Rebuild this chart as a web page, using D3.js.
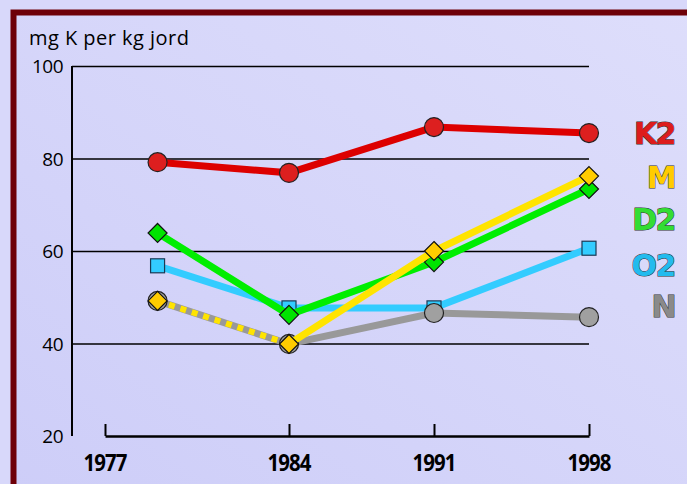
<!DOCTYPE html>
<html>
<head>
<meta charset="utf-8">
<script src="https://cdn.jsdelivr.net/npm/d3@7"></script>
<style>
  body { margin: 0; background: #d8d8fa; }
  svg { display: block; }
</style>
</head>
<body>
<svg id="chart"></svg>
<script>
// data
const years = [1979, 1984, 1991, 1998];
const axisYears = [1977, 1984, 1991, 1998];
const yTicks = [20, 40, 60, 80, 100];
const k2 = [79.2, 76.9, 86.8, 85.5];
const m = [49.2, 39.9, 60.0, 76.2];
const d2 = [63.9, 46.2, 57.6, 73.4];
const o2 = [56.8, 47.7, 47.7, 60.6];
const n = [49.2, 39.9, 46.6, 45.7];

const width = 687;
const height = 484;

const svg = d3.select("#chart").attr("width", width).attr("height", height);

const defs = svg.append("defs");
const grad = defs.append("linearGradient")
  .attr("id", "bg")
  .attr("x1", "0%").attr("y1", "100%")
  .attr("x2", "100%").attr("y2", "0%");
grad.append("stop").attr("offset", "0%").attr("stop-color", "#cdcdf8");
grad.append("stop").attr("offset", "100%").attr("stop-color", "#dedefb");

svg.append("rect").attr("width", width).attr("height", height).attr("fill", "#d8d8fa");
svg.append("rect")
  .attr("x", 13.5).attr("y", 12.5)
  .attr("width", width + 20).attr("height", height + 20)
  .attr("fill", "url(#bg)")
  .attr("stroke", "#6e0008")
  .attr("stroke-width", 6);

// x positions of the printed years are not evenly spaced in the original
const x = d3.scaleLinear().domain(axisYears).range([105, 289, 434, 589]);
const y = d3.scaleLinear().domain([20, 100]).range([436, 66]);

const axisFont = "'Open Sans', sans-serif";

// gridlines
svg.append("g")
  .selectAll("line")
  .data(yTicks.filter((d) => d > 20))
  .join("line")
  .attr("x1", 72)
  .attr("x2", x(1998))
  .attr("y1", (d) => y(d) + 0.5)
  .attr("y2", (d) => y(d) + 0.5)
  .attr("stroke", "#000")
  .attr("stroke-width", 1.3);

// y axis
svg.append("line")
  .attr("x1", 72).attr("x2", 72)
  .attr("y1", y(100)).attr("y2", y(20))
  .attr("stroke", "#000").attr("stroke-width", 2);

svg.append("g")
  .selectAll("text")
  .data(yTicks)
  .join("text")
  .attr("x", 63)
  .attr("y", (d) => y(d) + 7)
  .attr("text-anchor", "end")
  .attr("font-family", axisFont)
  .attr("font-size", 19)
  .attr("letter-spacing", -0.5)
  .attr("fill", "#000")
  .text((d) => d);

svg.append("text")
  .attr("x", 29).attr("y", 45)
  .attr("font-family", axisFont)
  .attr("font-size", 20)
  .attr("textLength", 160)
  .attr("fill", "#000")
  .text("mg K per kg jord");

// x axis bracket
const xAxis = svg.append("g")
  .attr("transform", `translate(0,${y(20)})`)
  .call(d3.axisTop(x).tickValues(axisYears).tickSize(12).tickSizeOuter(0).tickFormat(""));
xAxis.select(".domain").attr("stroke", "#000").attr("stroke-width", 2.5);
xAxis.selectAll(".tick line").attr("stroke", "#000").attr("stroke-width", 2);

// condensed bold year labels
svg.append("g")
  .selectAll("text")
  .data(axisYears)
  .join("text")
  .attr("transform", (d) => `translate(${x(d)},471) scale(0.85,1)`)
  .attr("text-anchor", "middle")
  .attr("font-family", axisFont)
  .attr("font-weight", "bold")
  .attr("font-size", 24)
  .attr("letter-spacing", -1)
  .attr("fill", "#000")
  .text((d) => d);

// series, drawn bottom to top
const series = [
  { name: "O2", values: o2, line: "#33ccff", fill: "#33ccff", shape: "square", labelColor: "#22bbee", labelY: 265 },
  { name: "N", values: n, line: "#999999", fill: "#a0a0a0", shape: "circle", labelColor: "#8a8a8a", labelY: 306 },
  { name: "D2", values: d2, line: "#00ee00", fill: "#00e400", shape: "diamond", labelColor: "#33dd33", labelY: 219 },
  { name: "M", values: m, line: "#ffe400", fill: "#ffcc00", shape: "diamond", labelColor: "#ffcc00", labelY: 177, dashFirst: true },
  { name: "K2", values: k2, line: "#dd0000", fill: "#dd1f1f", shape: "circle", labelColor: "#dd1c1c", labelY: 133 },
];

const line = d3.line().x((d) => x(d.year)).y((d) => y(d.value));

series.forEach((s) => {
  const pts = years.map((yr, i) => ({ year: yr, value: s.values[i] }));
  const g = svg.append("g");
  if (s.dashFirst) {
    g.append("path")
      .attr("d", line(pts.slice(0, 2)))
      .attr("fill", "none")
      .attr("stroke", s.line)
      .attr("stroke-width", 6)
      .attr("stroke-dasharray", "6,6");
    g.append("path")
      .attr("d", line(pts.slice(1)))
      .attr("fill", "none")
      .attr("stroke", s.line)
      .attr("stroke-width", 7);
  } else {
    g.append("path")
      .attr("d", line(pts))
      .attr("fill", "none")
      .attr("stroke", s.line)
      .attr("stroke-width", 7);
  }

  const marks = g.selectAll(".mark").data(pts).join("g")
    .attr("class", "mark")
    .attr("transform", (d) => `translate(${x(d.year)},${y(d.value)})`);
  if (s.shape === "circle") {
    marks.append("circle").attr("r", 9.5)
      .attr("fill", s.fill).attr("stroke", "#222").attr("stroke-width", 1.2);
  } else if (s.shape === "square") {
    marks.append("rect").attr("x", -7).attr("y", -7).attr("width", 14).attr("height", 14)
      .attr("fill", s.fill).attr("stroke", "#1a3a55").attr("stroke-width", 1.2);
  } else {
    marks.append("path").attr("d", "M0,-9.5L9.5,0L0,9.5L-9.5,0Z")
      .attr("fill", s.fill).attr("stroke", "#111").attr("stroke-width", 1.2);
  }

  svg.append("text")
    .attr("x", 675)
    .attr("y", s.labelY + 11)
    .attr("text-anchor", "end")
    .attr("font-family", "'DejaVu Sans', sans-serif")
    .attr("font-weight", "bold")
    .attr("font-size", 30)
    .attr("letter-spacing", -1.5)
    .attr("fill", s.labelColor)
    .attr("stroke", "#333")
    .attr("stroke-width", 1)
    .attr("paint-order", "stroke")
    .text(s.name);
});
</script>
</body>
</html>
